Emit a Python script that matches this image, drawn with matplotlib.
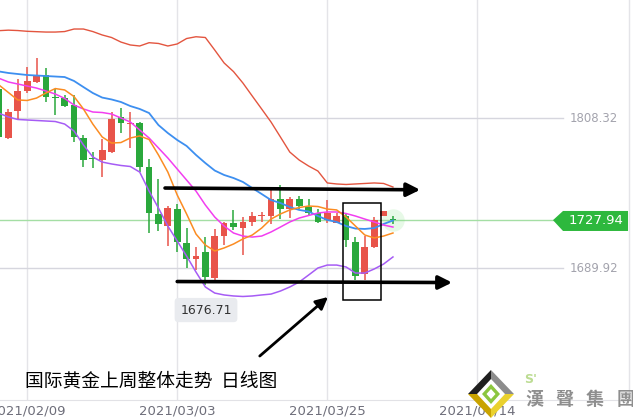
import numpy as np
import matplotlib
matplotlib.use('Agg')
import matplotlib.pyplot as plt
from matplotlib.patches import Polygon, Rectangle

# daily candles, first one is 2021/02/04
opens = [1831.5, 1792.8, 1814.1, 1829.9, 1837.0, 1842.5, 1824.6, 1824.3, 1818.8, 1792.8,
         1776.4, 1775.4, 1781.7, 1809.4, 1803.6, 1804.6, 1769.9, 1732.8, 1723.3, 1736.7,
         1709.9, 1697.3, 1702.8, 1682.3, 1715.4, 1725.7, 1721.7, 1726.5, 1731.0, 1731.2,
         1744.6, 1736.7, 1744.6, 1738.3, 1733.6, 1728.1, 1725.7, 1731.2, 1710.7, 1685.4,
         1706.7, 1731.2, 1728.2]
highs = [1833.0, 1815.7, 1839.3, 1848.8, 1855.9, 1848.0, 1831.5, 1826.7, 1826.7, 1795.1,
         1781.7, 1792.0, 1813.3, 1816.5, 1813.3, 1805.4, 1776.2, 1760.4, 1739.1, 1740.7,
         1721.7, 1706.7, 1714.6, 1721.0, 1726.5, 1736.0, 1730.4, 1734.4, 1734.4, 1751.7,
         1755.7, 1746.2, 1747.0, 1744.6, 1736.7, 1743.8, 1733.6, 1733.6, 1714.6, 1715.4,
         1730.4, 1735.2, 1731.0]
lows = [1791.0, 1792.0, 1807.8, 1828.3, 1836.2, 1821.2, 1810.9, 1817.2, 1789.6, 1769.9,
        1769.1, 1762.0, 1780.9, 1796.7, 1784.9, 1765.9, 1717.8, 1719.4, 1707.5, 1702.8,
        1690.2, 1688.6, 1676.71, 1679.9, 1708.3, 1720.2, 1700.4, 1723.3, 1726.5, 1724.9,
        1728.8, 1729.6, 1736.7, 1732.0, 1725.7, 1725.7, 1725.7, 1706.7, 1680.7, 1680.7,
        1706.0, 1731.2, 1725.0]
closes = [1793.6, 1813.3, 1829.9, 1837.8, 1842.5, 1825.1, 1824.3, 1818.0, 1793.6, 1775.4,
          1776.2, 1783.3, 1807.8, 1804.6, 1803.8, 1769.9, 1733.6, 1724.9, 1737.5, 1710.7,
          1697.3, 1699.6, 1683.1, 1715.4, 1725.7, 1722.5, 1726.5, 1731.2, 1731.2, 1744.6,
          1736.7, 1744.6, 1739.1, 1733.6, 1726.5, 1733.6, 1731.2, 1712.3, 1683.9, 1706.7,
          1728.1, 1735.2, 1727.94]

# indicator lines, one value per candle
ma5 = [1834.6, 1828.7, 1822.8, 1822.4, 1824.3, 1828.3, 1831.8, 1830.7, 1825.5, 1815.7,
       1803.8, 1793.6, 1788.8, 1789.2, 1792.8, 1794.4, 1791.6, 1779.4, 1765.9, 1747.8,
       1732.8, 1717.0, 1708.3, 1703.6, 1706.0, 1709.1, 1713.1, 1716.2, 1721.7, 1728.8,
       1732.8, 1736.0, 1737.9, 1739.1, 1738.7, 1736.7, 1736.0, 1730.4, 1723.3, 1716.2,
       1713.9, 1715.4, 1717.8]
ma10 = [1839.9, 1837.0, 1835.4, 1833.8, 1832.2, 1829.9, 1827.5, 1824.0, 1818.8, 1815.7,
        1813.3, 1812.9, 1811.7, 1808.6, 1805.4, 1799.1, 1792.8, 1784.9, 1777.0, 1768.3,
        1759.6, 1750.9, 1739.9, 1730.4, 1723.3, 1717.8, 1715.4, 1714.6, 1715.4, 1718.6,
        1722.5, 1726.5, 1729.6, 1731.6, 1733.6, 1734.4, 1734.4, 1733.2, 1731.2, 1728.8,
        1726.5, 1724.1, 1722.5]
boll_mid = [1845.3, 1844.1, 1843.3, 1842.5, 1842.1, 1841.7, 1841.3, 1840.9, 1837.8, 1833.0,
            1828.3, 1824.7, 1823.2, 1821.2, 1818.0, 1815.7, 1812.5, 1803.0, 1796.7, 1791.2,
            1786.5, 1779.4, 1773.0, 1767.1, 1763.6, 1761.2, 1758.1, 1753.3, 1748.6, 1743.8,
            1741.5, 1738.3, 1736.0, 1734.8, 1731.2, 1728.1, 1726.5, 1723.3, 1721.3, 1721.0,
            1721.7, 1724.9, 1727.7]
boll_up = [1877.5, 1877.9, 1877.6, 1877.0, 1876.7, 1876.4, 1876.4, 1876.8, 1878.8, 1878.8,
           1876.8, 1874.1, 1872.1, 1868.5, 1866.2, 1865.4, 1868.0, 1867.4, 1865.4, 1867.0,
           1871.3, 1872.7, 1872.1, 1862.2, 1852.0, 1845.2, 1836.2, 1825.9, 1815.7, 1805.4,
           1793.6, 1781.7, 1775.4, 1770.7, 1766.7, 1757.3, 1756.5, 1756.1, 1756.5, 1756.9,
           1757.3, 1756.9, 1754.1]
boll_dn = [1812.3, 1809.4, 1807.4, 1807.0, 1806.6, 1806.2, 1805.8, 1803.8, 1798.3, 1787.3,
           1777.8, 1773.8, 1772.3, 1771.1, 1770.3, 1765.9, 1750.9, 1737.5, 1723.3, 1711.5,
           1699.6, 1687.0, 1675.2, 1670.4, 1668.9, 1668.1, 1667.7, 1668.1, 1668.9, 1669.6,
           1672.0, 1675.2, 1679.1, 1684.6, 1690.2, 1692.5, 1692.5, 1691.0, 1686.2, 1686.2,
           1689.4, 1693.3, 1698.9]

date_labels = ['2021/02/09', '2021/03/03', '2021/03/25', '2021/04/14']
date_pos = [3, 19, 35, 51]

last_price = 1727.94
level_hi = 1808.32
level_lo = 1689.92

title = '国际黄金上周整体走势  日线图'
brand = '漢聲集團'

UP = '#e8544a'
DOWN = '#2aa83c'

fig = plt.figure(figsize=(6.33, 4.19), dpi=100)
ax = fig.add_axes([0, 19 / 419, 1, 400 / 419])
ax.set_xlim(0.107, 67.59)
ax.set_ylim(1586.0, 1901.7)

for d in date_pos:
    ax.axvline(d, color='#e4e4e8', lw=1, zorder=0)
ax.axvline(67.16, color='#e4e4e8', lw=1, zorder=0)

ax.axhline(level_hi, xmax=0.889, color='#d6d6de', lw=1, zorder=0)
ax.axhline(level_lo, xmax=0.889, color='#d6d6de', lw=1, zorder=0)
ax.axhline(last_price, xmax=0.874, color='#a4dea4', lw=1, zorder=0)

# candles
x = np.arange(len(opens))
o = np.array(opens)
c = np.array(closes)
cols = [UP if cc >= oo else DOWN for oo, cc in zip(o, c)]
ax.vlines(x, lows, highs, colors=cols, lw=1.1, zorder=2)
body = np.maximum(np.abs(c - o), 0.9)
ax.bar(x, body, bottom=np.minimum(o, c), width=0.72, color=cols, zorder=2)

# last price glow
ax.scatter([x[-1]], [last_price], s=260, color='#7be07b', alpha=0.18, lw=0, zorder=1)

ax.plot(x, boll_up, color='#e3553f', lw=1.0, zorder=3)
ax.plot(x, boll_dn, color='#a65cf5', lw=1.1, zorder=3)
ax.plot(x, boll_mid, color='#3d8ff0', lw=1.3, zorder=3)
ax.plot(x, ma10, color='#f23ef0', lw=1.1, zorder=3)
ax.plot(x, ma5, color='#fb8c22', lw=1.1, zorder=3)

# right side price labels
for lv in (level_hi, level_lo):
    ax.text(60.87, lv, f'{lv:.2f}', color='#a3a3ad', fontsize=8.5, va='center', ha='left')
tag = Polygon([(59.06, last_price), (60.13, 1735.2), (67.06, 1735.2), (67.06, 1719.4), (60.13, 1719.4)],
              closed=True, color='#2db83d', lw=0, zorder=4)
ax.add_patch(tag)
ax.text(63.6, last_price, f'{last_price:.2f}', color='white', fontsize=9.5, va='center', ha='center', zorder=5)

# annotations
arrow = dict(arrowstyle='-|>', color='black', lw=2.6, mutation_scale=20, shrinkA=0, shrinkB=0)
ax.annotate('', xy=(44.9, 1751.9), xytext=(17.7, 1753.3), arrowprops=arrow, zorder=6)
ax.annotate('', xy=(48.3, 1678.7), xytext=(19.0, 1679.5), arrowprops=arrow, zorder=6)
ax.annotate('', xy=(35.07, 1667.3), xytext=(27.8, 1620.7),
            arrowprops=dict(arrowstyle='-|>', color='black', lw=2.0, mutation_scale=18, shrinkA=0, shrinkB=0), zorder=6)
ax.add_patch(Rectangle((36.67, 1664.9), 4.05, 76.6, fill=False, ec='black', lw=1.1, zorder=6))

low_val = min(lows)
ax.text(22.07, 1657.0, f'{low_val:.2f}', fontsize=9, color='#333333', ha='center', va='center', zorder=6,
        bbox=dict(boxstyle='round,pad=0.45,rounding_size=0.3', fc='#e9ebef', ec='none'))

ax.set_xticks(date_pos)
ax.set_xticklabels(date_labels)
ax.tick_params(axis='x', length=0, pad=3, labelsize=9.5, labelcolor='#6e6e7a')
ax.set_yticks([])
for s in ['top', 'left', 'right']:
    ax.spines[s].set_visible(False)
ax.spines['bottom'].set_color('#e2e2e6')

# overlay in pixel coords for title and logo
ov = fig.add_axes([0, 0, 1, 1], zorder=10)
ov.set_xlim(0, 633)
ov.set_ylim(419, 0)
ov.axis('off')
ov.patch.set_alpha(0)

ov.text(25, 381, title, fontsize=13.5, va='center', ha='left', color='black',
        family=['Noto Sans CJK SC', 'DejaVu Sans'])

cx, cy = 491, 394
ov.add_patch(Polygon([(cx, cy - 24), (cx, cy), (cx - 23, cy)], color='#1f1f1f', lw=0))
ov.add_patch(Polygon([(cx, cy - 24), (cx + 23, cy), (cx, cy)], color='#8c8c8c', lw=0))
ov.add_patch(Polygon([(cx - 23, cy), (cx, cy), (cx, cy + 24)], color='#c9a300', lw=0))
ov.add_patch(Polygon([(cx, cy), (cx + 23, cy), (cx, cy + 24)], color='#ead12e', lw=0))
ov.add_patch(Polygon([(cx, cy - 15), (cx + 14, cy), (cx, cy + 15), (cx - 14, cy)], color='white', lw=0))
ov.add_patch(Polygon([(cx, cy - 10), (cx + 9, cy), (cx, cy + 10), (cx - 9, cy)], color='#8cc63f', lw=0))
ov.add_patch(Polygon([(cx, cy - 5), (cx + 4.5, cy), (cx, cy + 5), (cx - 4.5, cy)], color='white', lw=0))

ov.text(531, 379, "S'", fontsize=9, color='#bcdc92', weight='bold', ha='center', va='center')
for i, ch in enumerate(brand):
    ov.text(534 + i * 30.5, 399, ch, fontsize=13, color='#8e8e8e', weight='bold', ha='center', va='center',
            family=['Noto Sans CJK TC', 'DejaVu Sans'])

fig.savefig('out.png', dpi=100, facecolor='white')
